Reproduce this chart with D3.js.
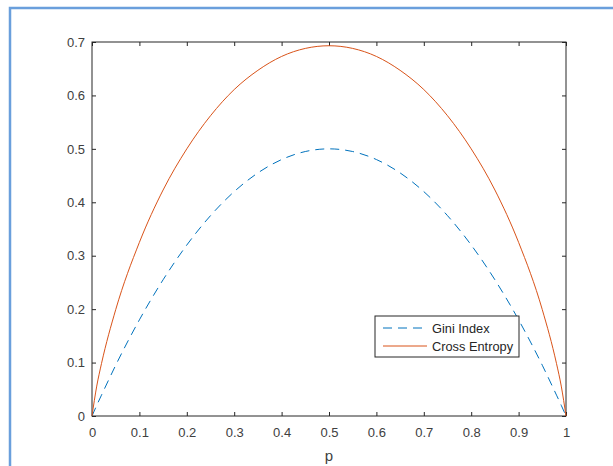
<!DOCTYPE html>
<html lang="en">
<head>
<meta charset="UTF-8">
<title>gini vs entropy</title>
<script src="https://d3js.org/d3.v7.min.js"></script>
<style>
    body{ margin:0; background:#fff; }
    text{ font-family: "Liberation Sans", Arial, sans-serif; }
</style>
</head>
<body>
<svg id="fig" width="613" height="466"></svg>
<script>
    // values
    let pValues = [0, 0.01, 0.02, 0.05, 0.1, 0.15, 0.2, 0.25, 0.3, 0.35, 0.4, 0.45, 0.5,
                   0.55, 0.6, 0.65, 0.7, 0.75, 0.8, 0.85, 0.9, 0.95, 0.98, 0.99, 1]
    let giniValues = [0, 0.020, 0.039, 0.095, 0.18, 0.255, 0.32, 0.375, 0.42, 0.455, 0.48, 0.495, 0.5,
                      0.495, 0.48, 0.455, 0.42, 0.375, 0.32, 0.255, 0.18, 0.095, 0.039, 0.020, 0]
    let entropyValues = [0, 0.056, 0.098, 0.199, 0.325, 0.423, 0.500, 0.562, 0.611, 0.647, 0.673, 0.688, 0.693,
                         0.688, 0.673, 0.647, 0.611, 0.562, 0.500, 0.423, 0.325, 0.199, 0.098, 0.056, 0]
    let xTicks = [0, 0.1, 0.2, 0.3, 0.4, 0.5, 0.6, 0.7, 0.8, 0.9, 1]
    let yTicks = [0, 0.1, 0.2, 0.3, 0.4, 0.5, 0.6, 0.7]
    let seriesNames = ["Gini Index", "Cross Entropy"]

    let svg = d3.select("#fig")

    // blue frame on left and top
    svg.append("path")
        .attr("d", "M10,466 L10,8 L613,8")
        .attr("fill", "none")
        .attr("stroke", "#6a9fdc")
        .attr("stroke-width", 2.5)

    let plotL = 92, plotR = 566, plotT = 42, plotB = 416
    let x = d3.scaleLinear().domain([0, 1]).range([plotL, plotR])
    let y = d3.scaleLinear().domain([0, 0.7]).range([plotB, plotT])

    let tickColor = "#262626"
    let gx = svg.append("g").attr("transform", `translate(0,${plotB})`)
        .call(d3.axisBottom(x).tickValues(xTicks).tickSizeInner(-4).tickSizeOuter(0).tickPadding(12)
            .tickFormat(d3.format("")))
    let gy = svg.append("g").attr("transform", `translate(${plotL},0)`)
        .call(d3.axisLeft(y).tickValues(yTicks).tickSizeInner(-4).tickSizeOuter(0).tickPadding(7)
            .tickFormat(d3.format("")))
    let gxt = svg.append("g").attr("transform", `translate(0,${plotT})`)
        .call(d3.axisTop(x).tickValues(xTicks).tickSizeInner(-4).tickSizeOuter(0).tickFormat(""))
    let gyr = svg.append("g").attr("transform", `translate(${plotR},0)`)
        .call(d3.axisRight(y).tickValues(yTicks).tickSizeInner(-4).tickSizeOuter(0).tickFormat(""))

    ;[gx, gy, gxt, gyr].forEach(function(g){
        g.select(".domain").remove()
        g.selectAll("line").attr("stroke", tickColor)
        g.selectAll("text").attr("fill", "#404040").style("font-size", "13px")
    })

    // box
    svg.append("rect")
        .attr("x", plotL).attr("y", plotT)
        .attr("width", plotR - plotL).attr("height", plotB - plotT)
        .attr("fill", "none").attr("stroke", tickColor).attr("stroke-width", 1)

    let line = function(vals){
        return d3.line()
            .x(function(d, i){ return x(pValues[i]) })
            .y(function(d){ return y(d) })
            .curve(d3.curveMonotoneX)(vals)
    }

    svg.append("path")
        .attr("d", line(giniValues))
        .attr("fill", "none")
        .attr("stroke", "#0072BD")
        .attr("stroke-width", 1)
        .attr("stroke-dasharray", "9,6")

    svg.append("path")
        .attr("d", line(entropyValues))
        .attr("fill", "none")
        .attr("stroke", "#D95319")
        .attr("stroke-width", 1)

    // x label
    svg.append("text")
        .attr("x", x(0.5)).attr("y", 461)
        .attr("text-anchor", "middle")
        .attr("fill", "#404040")
        .style("font-size", "15px")
        .text("p")

    // legend
    let lg = svg.append("g").attr("transform", "translate(375,316)")
    lg.append("rect")
        .attr("width", 144).attr("height", 41)
        .attr("fill", "#fff").attr("stroke", tickColor).attr("stroke-width", 1)
    let styles = [{c: "#0072BD", dash: "9,6"}, {c: "#D95319", dash: null}]
    seriesNames.forEach(function(name, i){
        let yy = 12 + i * 18
        lg.append("line")
            .attr("x1", 8).attr("x2", 52).attr("y1", yy).attr("y2", yy)
            .attr("stroke", styles[i].c).attr("stroke-width", 1)
            .attr("stroke-dasharray", styles[i].dash)
        lg.append("text")
            .attr("x", 57).attr("y", yy + 4.5)
            .attr("fill", "#262626")
            .style("font-size", "12.8px")
            .text(name)
    })
</script>
</body>
</html>
